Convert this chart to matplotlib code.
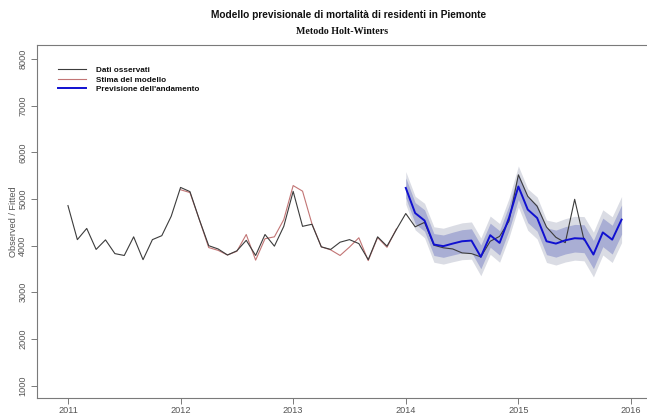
import matplotlib
matplotlib.use("Agg")
import matplotlib.pyplot as plt
import numpy as np

# Monthly deaths of residents in Piedmont
start_year = 2011
observed = [
    4860, 4130, 4370, 3920, 4125, 3830, 3790, 4190, 3700, 4130, 4215, 4630,   # 2011
    5250, 5160, 4560, 4000, 3930, 3800, 3890, 4115, 3790, 4240, 3990, 4415,   # 2012
    5165, 4415, 4460, 3975, 3920, 4075, 4130, 4045, 3700, 4190, 3990, 4345,   # 2013
    4690, 4405, 4500, 4010, 3955, 3930, 3845, 3830, 3760, 4095, 4200, 4525,   # 2014
    5520, 5060, 4845, 4400, 4180, 4065, 4995, 4120,                           # 2015
]

# Holt-Winters fitted values (from the second season on)
fitted_start = 2012
fitted = [
    5200, 5140, 4560, 3960, 3900, 3800, 3880, 4240, 3690, 4150, 4190, 4560,   # 2012
    5290, 5170, 4470, 3975, 3910, 3790, 3970, 4170, 3680, 4175, 3965, 4360,   # 2013
]

# Forecast with 80% / 95% half-widths of the prediction intervals
forecast_start = 2014
forecast = [
    5240, 4700, 4540, 4025, 3990, 4045, 4095, 4110, 3760, 4225, 4060, 4595,   # 2014
    5270, 4775, 4595, 4095, 4045, 4115, 4160, 4150, 3810, 4285, 4130, 4560,   # 2015
]
half80 = [215, 225, 230, 235, 240, 245, 248, 252, 255, 258, 262, 265,
          278, 281, 284, 287, 290, 293, 296, 300, 303, 306, 309, 312]
half95 = [350, 360, 370, 380, 385, 390, 395, 400, 405, 410, 415, 420,
          440, 445, 450, 455, 460, 465, 470, 475, 480, 485, 490, 495]

x_ticks = [2011, 2012, 2013, 2014, 2015, 2016]
y_ticks = [1000, 2000, 3000, 4000, 5000, 6000, 7000, 8000]

title = "Modello previsionale di mortalità di residenti in Piemonte"
subtitle = "Metodo Holt-Winters"
y_label = "Observed / Fitted"
legend_labels = ["Dati osservati", "Stima del modello", "Previsione dell'andamento"]

t_obs = start_year + np.arange(len(observed)) / 12.0
t_fit = fitted_start + np.arange(len(fitted)) / 12.0
t_fc = forecast_start + np.arange(len(forecast)) / 12.0
fc = np.array(forecast, dtype=float)
h80 = np.array(half80, dtype=float)
h95 = np.array(half95, dtype=float)

plt.rcParams["font.family"] = ["Liberation Sans", "DejaVu Sans"]

W, H = 647, 417
fig = plt.figure(figsize=(W / 100, H / 100), dpi=100)
left_px, right_px, top_px, bottom_px = 37, 660, 45, 398
ax = fig.add_axes([left_px / W, 1 - bottom_px / H,
                   (right_px - left_px) / W, (bottom_px - top_px) / H])

axis_grey = "#7a7a7a"
obs_col = "#3c3c3c"
fit_col = "#c27575"
fc_col = "#1010d0"

ax.fill_between(t_fc, fc - h95, fc + h95, color="#dadce4", lw=0, zorder=1)
ax.fill_between(t_fc, fc - h80, fc + h80, color="#a9aed4", lw=0, zorder=2)
l1, = ax.plot(t_obs, observed, color=obs_col, lw=0.8, zorder=4)
l2, = ax.plot(t_fit, fitted, color=fit_col, lw=0.8, zorder=3)
l3, = ax.plot(t_fc, fc, color=fc_col, lw=1.4, zorder=5)

ax.set_xlim(2010.725, 2010.725 + (right_px - left_px) / 112.6)
ax.set_ylim(732, 8306)

ax.set_xticks(x_ticks)
ax.set_xticklabels([str(v) for v in x_ticks])
ax.set_yticks(y_ticks)
ax.set_yticklabels([str(v) for v in y_ticks], rotation=90, va="center")

for s in ["left", "bottom", "top"]:
    ax.spines[s].set_color(axis_grey)
    ax.spines[s].set_linewidth(0.8)
ax.spines["right"].set_visible(False)
ax.tick_params(axis="both", colors=axis_grey, labelcolor="#555555",
               labelsize=6.6, length=4, width=0.7, direction="out")
ax.tick_params(axis="x", pad=2)
ax.tick_params(axis="y", pad=3)

ax.set_ylabel(y_label, fontsize=6.6, color="#555555")
ax.yaxis.set_label_coords((18 - left_px) / (right_px - left_px), 0.5)

cx = ((left_px + right_px) / 2) / W
fig.text(cx, 1 - 15 / H, title, ha="center", va="center",
         fontsize=7.3, fontweight="bold", color="#111111")
fig.text(cx - 6 / W, 1 - 32 / H, subtitle, ha="center", va="center",
         fontsize=7.2, fontweight="bold", color="#111111",
         family=["Liberation Serif", "DejaVu Serif"])

leg = ax.legend([l1, l2, l3], legend_labels, loc="upper left",
                bbox_to_anchor=(0.022, 0.96), frameon=False,
                handlelength=3.4, handletextpad=1.2, labelspacing=0.22,
                prop={"size": 5.9, "weight": "bold"})
for txt in leg.get_texts():
    txt.set_color("#111111")

fig.savefig("out.png", dpi=100, facecolor="white")
